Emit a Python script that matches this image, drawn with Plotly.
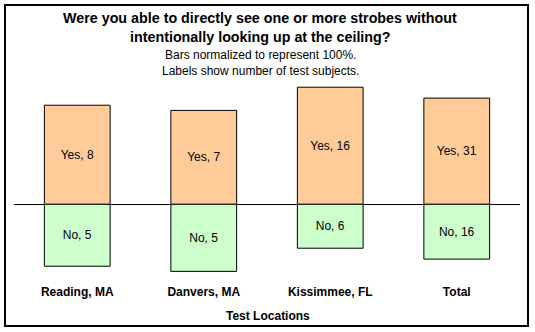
import plotly.graph_objects as go

locations = ["Reading, MA", "Danvers, MA", "Kissimmee, FL", "Total"]
yes_counts = [8, 7, 16, 31]
no_counts = [5, 5, 6, 16]

yes_pct = [y / (y + n) * 100 for y, n in zip(yes_counts, no_counts)]
no_pct = [-n / (y + n) * 100 for y, n in zip(yes_counts, no_counts)]

W, H = 535, 332
font = "Arial, Liberation Sans, sans-serif"

fig = go.Figure()
fig.add_trace(go.Bar(
    x=locations, y=yes_pct, text=[f"Yes, {v}" for v in yes_counts],
    marker=dict(color="#FFCC99", line=dict(color="black", width=1)),
    textposition="inside", insidetextanchor="middle",
    textfont=dict(family=font, size=12, color="black"), hoverinfo="skip",
))
fig.add_trace(go.Bar(
    x=locations, y=no_pct, text=[f"No, {v}" for v in no_counts],
    marker=dict(color="#CCFFCC", line=dict(color="black", width=1)),
    textposition="inside", insidetextanchor="middle",
    textfont=dict(family=font, size=12, color="black"), hoverinfo="skip",
))

plot_top, plot_bot = 80, 283
zero_px = 204.3
ppu = 1.61
ymax = (zero_px - plot_top) / ppu
ymin = -(plot_bot - zero_px) / ppu

fig.update_layout(
    width=W, height=H, barmode="relative", bargap=0.48, showlegend=False,
    margin=dict(l=14, r=15, t=plot_top, b=H - plot_bot),
    paper_bgcolor="white", plot_bgcolor="white",
    font=dict(family=font, size=12, color="black"),
    uniformtext=dict(mode="show", minsize=12),
    xaxis=dict(showline=False, ticks="", showgrid=False,
               tickfont=dict(family=font, size=12, color="black"),
               tickprefix="<b>", ticksuffix="</b>"),
    yaxis=dict(range=[ymin, ymax], showticklabels=False, showgrid=False,
               zeroline=True, zerolinecolor="black", zerolinewidth=1, ticks=""),
    shapes=[dict(type="rect", xref="paper", yref="paper",
                 x0=-9 / (W - 29), x1=(528 - 14) / (W - 29),
                 y0=-(326 - plot_bot) / (plot_bot - plot_top),
                 y1=1 + (plot_top - 5) / (plot_bot - plot_top),
                 line=dict(color="black", width=2), layer="above")],
)

def ann(text, ypx, size, bold=False, xpx=267):
    fig.add_annotation(
        text=f"<b>{text}</b>" if bold else text,
        xref="paper", yref="paper",
        x=(xpx - 14) / (W - 29), y=(plot_bot - ypx) / (plot_bot - plot_top),
        xanchor="center", yanchor="middle", showarrow=False,
        font=dict(family=font, size=size, color="black"),
    )

ann("Were you able to directly see one or more strobes without", 18.3, 14.3, True, 260)
ann("intentionally looking up at the ceiling?", 37.3, 14.3, True, 260)
ann("Bars normalized to represent 100%.", 54.5, 12, False, 260)
ann("Labels show number of test subjects.", 71, 12, False, 260)
ann("Test Locations", 316, 12, True, 268)

fig.write_html("out.html")
